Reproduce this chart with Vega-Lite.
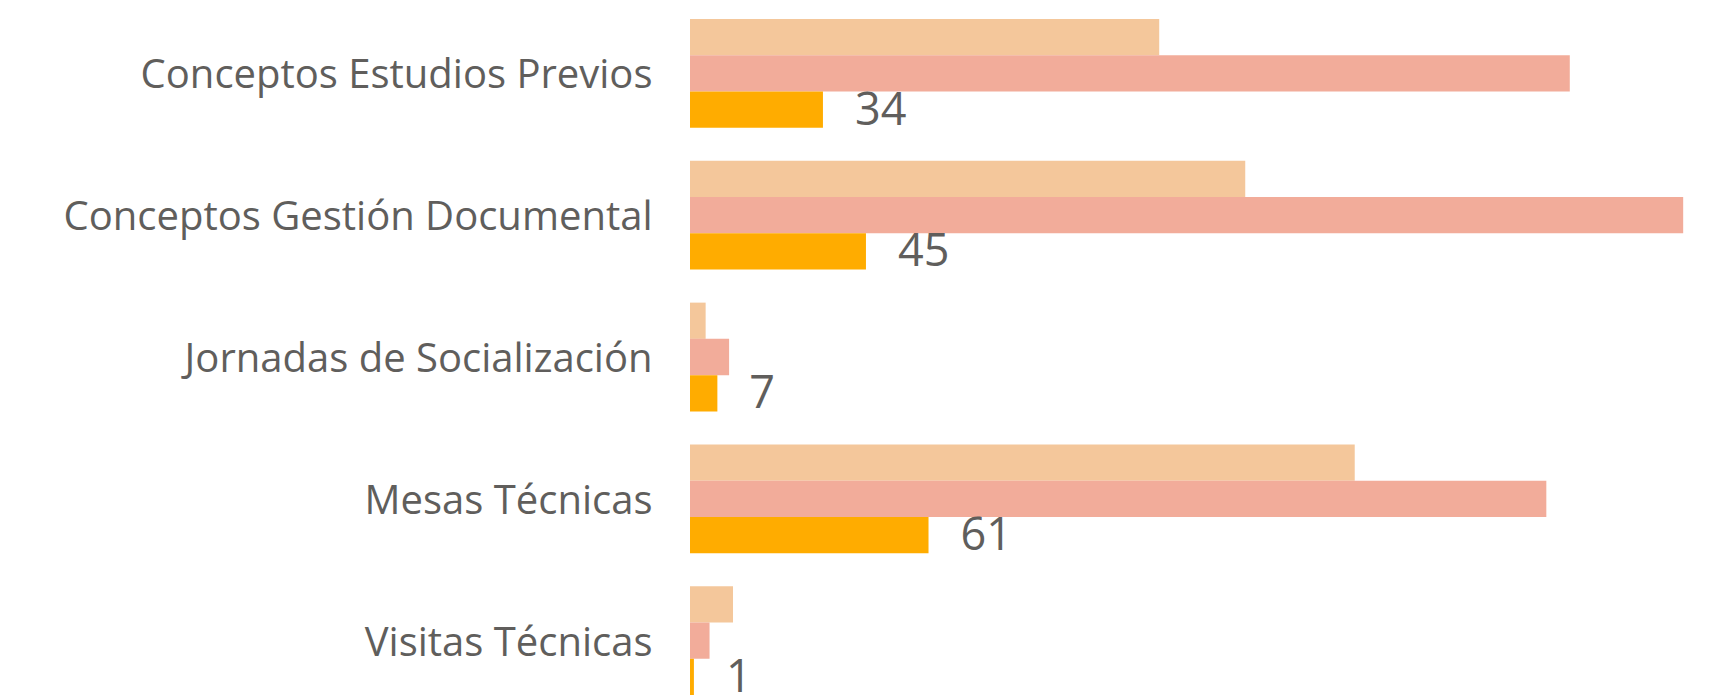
{
  "$schema": "https://vega.github.io/schema/vega-lite/v6.json",
  "autosize": "none",
  "width": 1001,
  "height": 676,
  "padding": {"left": 690, "top": 19, "right": 31, "bottom": 2},
  "background": "white",
  "config": {"view": {"stroke": null}},
  "data": {
    "values": [
      {"actividad": "Conceptos Estudios Previos", "serie": "Serie 1", "valor": 120},
      {"actividad": "Conceptos Estudios Previos", "serie": "Serie 2", "valor": 225},
      {"actividad": "Conceptos Estudios Previos", "serie": "Serie 3", "valor": 34},
      {"actividad": "Conceptos Gestión Documental", "serie": "Serie 1", "valor": 142},
      {"actividad": "Conceptos Gestión Documental", "serie": "Serie 2", "valor": 254},
      {"actividad": "Conceptos Gestión Documental", "serie": "Serie 3", "valor": 45},
      {"actividad": "Jornadas de Socialización", "serie": "Serie 1", "valor": 4},
      {"actividad": "Jornadas de Socialización", "serie": "Serie 2", "valor": 10},
      {"actividad": "Jornadas de Socialización", "serie": "Serie 3", "valor": 7},
      {"actividad": "Mesas Técnicas", "serie": "Serie 1", "valor": 170},
      {"actividad": "Mesas Técnicas", "serie": "Serie 2", "valor": 219},
      {"actividad": "Mesas Técnicas", "serie": "Serie 3", "valor": 61},
      {"actividad": "Visitas Técnicas", "serie": "Serie 1", "valor": 11},
      {"actividad": "Visitas Técnicas", "serie": "Serie 2", "valor": 5},
      {"actividad": "Visitas Técnicas", "serie": "Serie 3", "valor": 1}
    ]
  },
  "encoding": {
    "y": {
      "field": "actividad",
      "type": "nominal",
      "sort": null,
      "scale": {"paddingInner": 0.233, "paddingOuter": 0},
      "axis": {
        "title": null,
        "ticks": false,
        "domain": false,
        "labelPadding": 38,
        "labelOffset": 3,
        "labelFont": "Open Sans",
        "labelFontSize": 40,
        "labelColor": "#605E5C",
        "labelLimit": 800
      }
    },
    "yOffset": {
      "field": "serie",
      "type": "nominal",
      "scale": {"domain": ["Serie 1", "Serie 2", "Serie 3"], "paddingInner": 0, "paddingOuter": 0}
    },
    "x": {
      "field": "valor",
      "type": "quantitative",
      "scale": {"domain": [0, 256], "nice": false, "zero": true},
      "axis": null
    }
  },
  "layer": [
    {
      "mark": {"type": "bar", "cornerRadius": 0},
      "encoding": {
        "color": {
          "field": "serie",
          "type": "nominal",
          "scale": {"domain": ["Serie 1", "Serie 2", "Serie 3"], "range": ["#F4C79B", "#F2AC9A", "#FFAC00"]},
          "legend": null
        }
      }
    },
    {
      "transform": [{"filter": "datum.serie === 'Serie 3'"}],
      "mark": {"type": "text", "align": "left", "baseline": "middle", "dx": 32, "dy": 1, "font": "Open Sans", "fontSize": 45, "color": "#605E5C"},
      "encoding": {
        "text": {"field": "valor", "type": "quantitative"}
      }
    }
  ]
}
